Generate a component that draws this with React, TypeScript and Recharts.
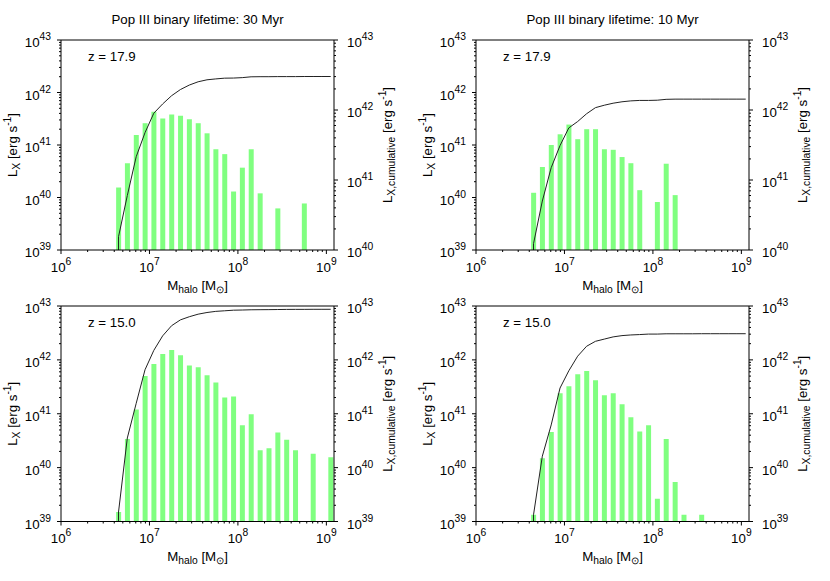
import React from "react";
import { ComposedChart, Bar, Line, XAxis, YAxis } from "recharts";

// halo mass bin centres (0.1 dex bins) [M_sun]
const massBins = [
  4.47e6, 5.62e6, 7.08e6, 8.91e6, 1.12e7, 1.41e7, 1.78e7, 2.24e7, 2.82e7, 3.55e7,
  4.47e7, 5.62e7, 7.08e7, 8.91e7, 1.12e8, 1.41e8, 1.78e8, 2.24e8, 2.82e8, 3.55e8,
  4.47e8, 5.62e8, 7.08e8, 8.91e8, 1.12e9,
];

// L_X per mass bin [erg/s], null = empty bin
const lx30z179 = [
  1.55e40, 4.5e40, 1.55e41, 2.6e41, 4.3e41, 3.2e41, 3.8e41, 3.6e41, 3.1e41, 2.6e41,
  1.67e41, 8.3e40, 6.7e40, 1.3e40, 3.7e40, 8.3e40, 1.2e40, null, 6.2e39, null,
  null, 7.7e39, null, null, null,
];
const lx10z179 = [
  1.23e40, 3.8e40, 1.0e41, 1.6e41, 2.45e41, 1.29e41, 2.0e41, 2.0e41, 8.3e40, 8.1e40,
  5.9e40, 4.5e40, 1.38e40, null, 8.2e39, 4.4e40, 1.11e40, null, null, null,
  null, null, null, null, null,
];
const lx30z150 = [
  1.5e39, 3.4e40, 1.2e41, 5.0e41, 8.4e41, 1.29e42, 1.52e42, 1.22e42, 7.9e41, 7.3e41,
  5.2e41, 3.8e41, 2.0e41, 2.1e41, 6.1e40, 9.8e40, 2.1e40, 2.3e40, 4.5e40, 3.3e40,
  2.1e40, null, 1.8e40, null, 1.55e40,
];
const lx10z150 = [
  1.33e39, 1.5e40, 4.6e40, 2.4e41, 3.25e41, 5.4e41, 6.2e41, 4.2e41, 2.2e41, 2.4e41,
  1.5e41, 8.6e40, 4.7e40, 6.1e40, 2.65e39, 3.4e40, 5.4e39, 1.33e39, null, 1.33e39,
  null, null, null, null, null,
];

// cumulative L_X up to each bin [erg/s]
const cum30z179 = [
  1.55e40, 6.0e40, 2.15e41, 4.75e41, 9.0e41, 1.22e42, 1.6e42, 1.96e42, 2.27e42, 2.53e42,
  2.7e42, 2.78e42, 2.85e42, 2.86e42, 2.9e42, 2.98e42, 2.99e42, 2.99e42, 3.0e42, 3.0e42,
  3.0e42, 3.01e42, 3.01e42, 3.01e42, 3.01e42,
];
const cum10z179 = [
  1.23e40, 5.0e40, 1.5e41, 3.1e41, 5.55e41, 6.84e41, 8.84e41, 1.08e42, 1.17e42, 1.25e42,
  1.31e42, 1.35e42, 1.37e42, 1.37e42, 1.38e42, 1.42e42, 1.43e42, 1.43e42, 1.43e42, 1.43e42,
  1.43e42, 1.43e42, 1.43e42, 1.43e42, 1.43e42,
];
const cum30z150 = [
  1.5e39, 3.55e40, 1.56e41, 6.56e41, 1.5e42, 2.79e42, 4.31e42, 5.53e42, 6.32e42, 7.05e42,
  7.57e42, 7.95e42, 8.15e42, 8.36e42, 8.42e42, 8.51e42, 8.54e42, 8.56e42, 8.6e42, 8.64e42,
  8.66e42, 8.66e42, 8.68e42, 8.68e42, 8.69e42,
];
const cum10z150 = [
  1.33e39, 1.63e40, 6.2e40, 3.0e41, 6.27e41, 1.17e42, 1.79e42, 2.21e42, 2.43e42, 2.67e42,
  2.82e42, 2.9e42, 2.95e42, 3.01e42, 3.01e42, 3.05e42, 3.05e42, 3.05e42, 3.05e42, 3.06e42,
  3.06e42, 3.06e42, 3.06e42, 3.06e42, 3.06e42,
];

// value before the first bin: below every axis, so the curve rises from the floor
const CUM_START = 1e38;

const X_DOMAIN = [1e6, 1.22e9];
const LX_DOMAIN = [1e39, 1e43];
const CUM_DOMAIN_HI_Z = [1e40, 1e43];
const CUM_DOMAIN_LO_Z = [1e39, 1e43];

const FONT = "'Liberation Sans', Arial, Helvetica, sans-serif";
const BAR_GREEN = "#80ff80";
const FS = 13.3;
const FS_SMALL = 10.3;

function logTicks(lo: number, hi: number) {
  const out: number[] = [];
  for (let e = Math.floor(Math.log10(lo)); e <= Math.ceil(Math.log10(hi)); e++) {
    for (let k = 1; k <= 9; k++) {
      const v = k * Math.pow(10, e);
      if (v >= lo * 0.999 && v <= hi * 1.001) out.push(v);
    }
  }
  return out;
}

const X_TICKS = logTicks(1e6, 1.2e9);
const LX_TICKS = logTicks(1e39, 1e43);
const CUM_TICKS_HI_Z = logTicks(1e40, 1e43);

// exponent if v is a power of ten, else null
function decade(v: number) {
  const l = Math.log10(v);
  const e = Math.round(l);
  return Math.abs(l - e) < 1e-6 ? e : null;
}

const XTick = (props: any) => {
  const { x, y, payload } = props;
  const e = decade(payload.value);
  return (
    <g>
      <line x1={x} y1={y} x2={x} y2={y + (e !== null ? 4 : 2)} stroke="#000" />
      {e !== null && (
        <text x={x} y={y + 21.5} textAnchor="middle" fontSize={FS} fontFamily={FONT} fill="#000">
          10<tspan dy={-7} fontSize={FS_SMALL}>{e}</tspan>
        </text>
      )}
    </g>
  );
};

const LeftTick = (props: any) => {
  const { x, y, payload } = props;
  const e = decade(payload.value);
  return (
    <g>
      <line x1={x - (e !== null ? 4 : 2)} y1={y} x2={x} y2={y} stroke="#000" />
      {e !== null && (
        <text x={x - 10} y={y + 7} textAnchor="end" fontSize={FS} fontFamily={FONT} fill="#000">
          10<tspan dy={-7} fontSize={FS_SMALL}>{e}</tspan>
        </text>
      )}
    </g>
  );
};

const RightTick = (props: any) => {
  const { x, y, payload } = props;
  const e = decade(payload.value);
  return (
    <g>
      <line x1={x} y1={y} x2={x + (e !== null ? 4 : 2)} y2={y} stroke="#000" />
      {e !== null && (
        <text x={x + 13} y={y + 7} textAnchor="start" fontSize={FS} fontFamily={FONT} fill="#000">
          10<tspan dy={-7} fontSize={FS_SMALL}>{e}</tspan>
        </text>
      )}
    </g>
  );
};

const W = 415;
const PLOT_L = 61;
const PLOT_R = 334;

type PanelProps = {
  left: number;
  top: number;
  height: number;
  plotTop: number;
  plotBottom: number;
  title?: string;
  zLabel: string;
  lx: (number | null)[];
  cum: number[];
  cumDomain: number[];
  cumTicks: number[];
};

function Panel({ left, top, height, plotTop, plotBottom, title, zLabel, lx, cum, cumDomain, cumTicks }: PanelProps) {
  const barData = massBins.map((m, i) => ({ m, lx: lx[i] })).filter((d) => d.lx !== null);
  const lineData = [{ m: massBins[0], cum: CUM_START }, ...massBins.map((m, i) => ({ m, cum: cum[i] }))];
  const cx = (PLOT_L + PLOT_R) / 2;
  const cy = (plotTop + plotBottom) / 2;
  // the x axes are 1px tall (recharts skips 0-height axes), so trim the margins by 1
  const margin = { top: plotTop - 1, bottom: height - plotBottom - 1, left: 0, right: 0 };

  return (
    <div style={{ position: "absolute", left, top, width: W, height }}>
      <ComposedChart width={W} height={height} data={barData} margin={margin}>
        <XAxis
          xAxisId="x"
          dataKey="m"
          type="number"
          scale="log"
          domain={X_DOMAIN}
          allowDataOverflow
          ticks={X_TICKS}
          interval={0}
          tick={<XTick />}
          tickLine={false}
          tickSize={0}
          tickMargin={0}
          height={1}
          axisLine={{ stroke: "#000" }}
        />
        <XAxis
          xAxisId="top"
          orientation="top"
          dataKey="m"
          type="number"
          scale="log"
          domain={X_DOMAIN}
          allowDataOverflow
          tick={false}
          tickLine={false}
          height={1}
          axisLine={{ stroke: "#000" }}
        />
        <YAxis
          yAxisId="lx"
          type="number"
          scale="log"
          domain={LX_DOMAIN}
          allowDataOverflow
          ticks={LX_TICKS}
          interval={0}
          tick={<LeftTick />}
          tickLine={false}
          tickSize={0}
          tickMargin={0}
          width={PLOT_L}
          axisLine={{ stroke: "#000" }}
        />
        <YAxis
          yAxisId="cum"
          orientation="right"
          type="number"
          scale="log"
          domain={cumDomain}
          allowDataOverflow
          ticks={cumTicks}
          interval={0}
          tick={<RightTick />}
          tickLine={false}
          tickSize={0}
          tickMargin={0}
          width={W - PLOT_R}
          axisLine={{ stroke: "#000" }}
        />
        <Bar xAxisId="x" yAxisId="lx" dataKey="lx" fill={BAR_GREEN} barSize={5} isAnimationActive={false} />
        <Line
          xAxisId="x"
          yAxisId="cum"
          data={lineData}
          dataKey="cum"
          type="linear"
          stroke="#222"
          strokeWidth={1}
          dot={false}
          activeDot={false}
          isAnimationActive={false}
        />
      </ComposedChart>
      <svg
        width={W}
        height={height}
        style={{ position: "absolute", left: 0, top: 0, overflow: "visible", pointerEvents: "none" }}
        fontFamily={FONT}
        fontSize={FS}
        fill="#000"
      >
        {title && (
          <text x={cx} y={24} textAnchor="middle">
            {title}
          </text>
        )}
        <text x={88} y={plotTop + 20.5}>
          {zLabel}
        </text>
        <text x={cx} y={plotBottom + 39.5} textAnchor="middle">
          M<tspan dy={3} fontSize={FS_SMALL}>halo</tspan>
          <tspan dy={-3}> [M</tspan>
          <tspan dy={3} fontSize={FS_SMALL}>⊙</tspan>
          <tspan dy={-3}>]</tspan>
        </text>
        <text x={17} y={cy} textAnchor="middle" transform={`rotate(-90 17 ${cy})`}>
          L<tspan dy={3} fontSize={FS_SMALL}>X</tspan>
          <tspan dy={-3}> [erg s</tspan>
          <tspan dy={-6} fontSize={FS_SMALL}>-1</tspan>
          <tspan dy={6}>]</tspan>
        </text>
        <text x={392} y={cy} textAnchor="middle" transform={`rotate(-90 392 ${cy})`}>
          L<tspan dy={3} fontSize={FS_SMALL}>X,cumulative</tspan>
          <tspan dy={-3}> [erg s</tspan>
          <tspan dy={-6} fontSize={FS_SMALL}>-1</tspan>
          <tspan dy={6}>]</tspan>
        </text>
      </svg>
    </div>
  );
}

export default function App() {
  return (
    <div style={{ position: "absolute", left: 0, top: 0, width: 830, height: 581, background: "#fff" }}>
      <Panel
        left={0}
        top={0}
        height={290}
        plotTop={40}
        plotBottom={250}
        title="Pop III binary lifetime: 30 Myr"
        zLabel="z = 17.9"
        lx={lx30z179}
        cum={cum30z179}
        cumDomain={CUM_DOMAIN_HI_Z}
        cumTicks={CUM_TICKS_HI_Z}
      />
      <Panel
        left={415}
        top={0}
        height={290}
        plotTop={40}
        plotBottom={250}
        title="Pop III binary lifetime: 10 Myr"
        zLabel="z = 17.9"
        lx={lx10z179}
        cum={cum10z179}
        cumDomain={CUM_DOMAIN_HI_Z}
        cumTicks={CUM_TICKS_HI_Z}
      />
      <Panel
        left={0}
        top={290}
        height={291}
        plotTop={16}
        plotBottom={231.5}
        zLabel="z = 15.0"
        lx={lx30z150}
        cum={cum30z150}
        cumDomain={CUM_DOMAIN_LO_Z}
        cumTicks={LX_TICKS}
      />
      <Panel
        left={415}
        top={290}
        height={291}
        plotTop={16}
        plotBottom={231.5}
        zLabel="z = 15.0"
        lx={lx10z150}
        cum={cum10z150}
        cumDomain={CUM_DOMAIN_LO_Z}
        cumTicks={LX_TICKS}
      />
    </div>
  );
}
